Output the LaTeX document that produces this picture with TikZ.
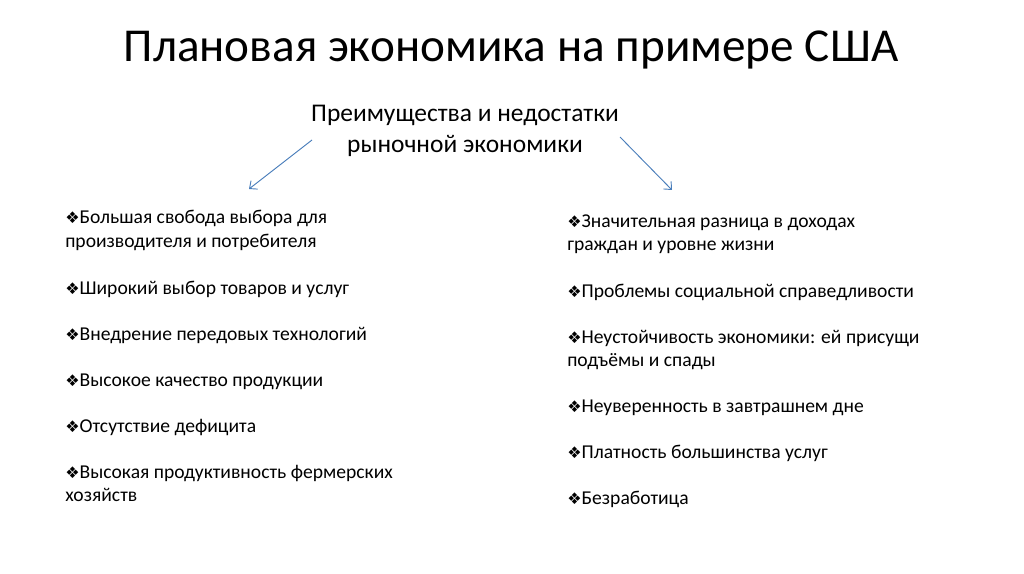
\documentclass[tikz,border=0pt]{standalone}
\usepackage{fontspec}
\usetikzlibrary{arrows.meta}
\setmainfont{Carlito}
\newfontfamily\symfont{DejaVu Sans}
\newcommand{\itm}{{\symfont\fontsize{12}{12}\selectfont ❖}}
\tikzset{
  item/.style={anchor=base west, inner sep=0pt, align=left,
    font=\fontsize{14.7}{17.25}\selectfont},
  pointer/.style={-{Straight Barb[length=4.5pt,width=8pt]}, color=arrowblue, line width=0.7pt}
}
\definecolor{arrowblue}{HTML}{4A7EBB}
\begin{document}
\begin{tikzpicture}[x=0.75pt,y=-0.75pt,text=black]
\useasboundingbox (0,0) rectangle (1024,574);

\node[anchor=base, inner sep=0pt, font=\fontsize{35.4}{40}\selectfont] (title) at (511,62)
  {Плановая экономика на примере США};
\node[anchor=base, inner sep=0pt, align=center, font=\fontsize{19.1}{23.25}\selectfont] (sub) at (465,152)
  {Преимущества и недостатки\\рыночной экономики};

\coordinate (lstart) at (312,140);
\coordinate (lend) at (249,189);
\coordinate (rstart) at (620,137);
\coordinate (rend) at (672,190);
\draw[pointer] (lstart) -- (lend);
\draw[pointer] (rstart) -- (rend);

% left column: advantages
\node[item] (l1) at (65,247) {\itm Большая свобода выбора для\\производителя и потребителя};
\node[item] (l2) at (65,294) {\itm Широкий выбор товаров и услуг};
\node[item] (l3) at (65,340) {\itm Внедрение передовых технологий};
\node[item] (l4) at (65,386) {\itm Высокое качество продукции};
\node[item] (l5) at (65,432) {\itm Отсутствие дефицита};
\node[item] (l6) at (65,501) {\itm Высокая продуктивность фермерских\\хозяйств};

% right column: disadvantages
\node[item] (r1) at (567,250) {\itm Значительная разница в доходах\\граждан и уровне жизни};
\node[item] (r2) at (567,297) {\itm Проблемы социальной справедливости};
\node[item] (r3) at (567,366) {\itm Неустойчивость экономики: ей присущи\\подъёмы и спады};
\node[item] (r4) at (567,412) {\itm Неуверенность в завтрашнем дне};
\node[item] (r5) at (567,458) {\itm Платность большинства услуг};
\node[item] (r6) at (567,504) {\itm Безработица};
\end{tikzpicture}
\end{document}
